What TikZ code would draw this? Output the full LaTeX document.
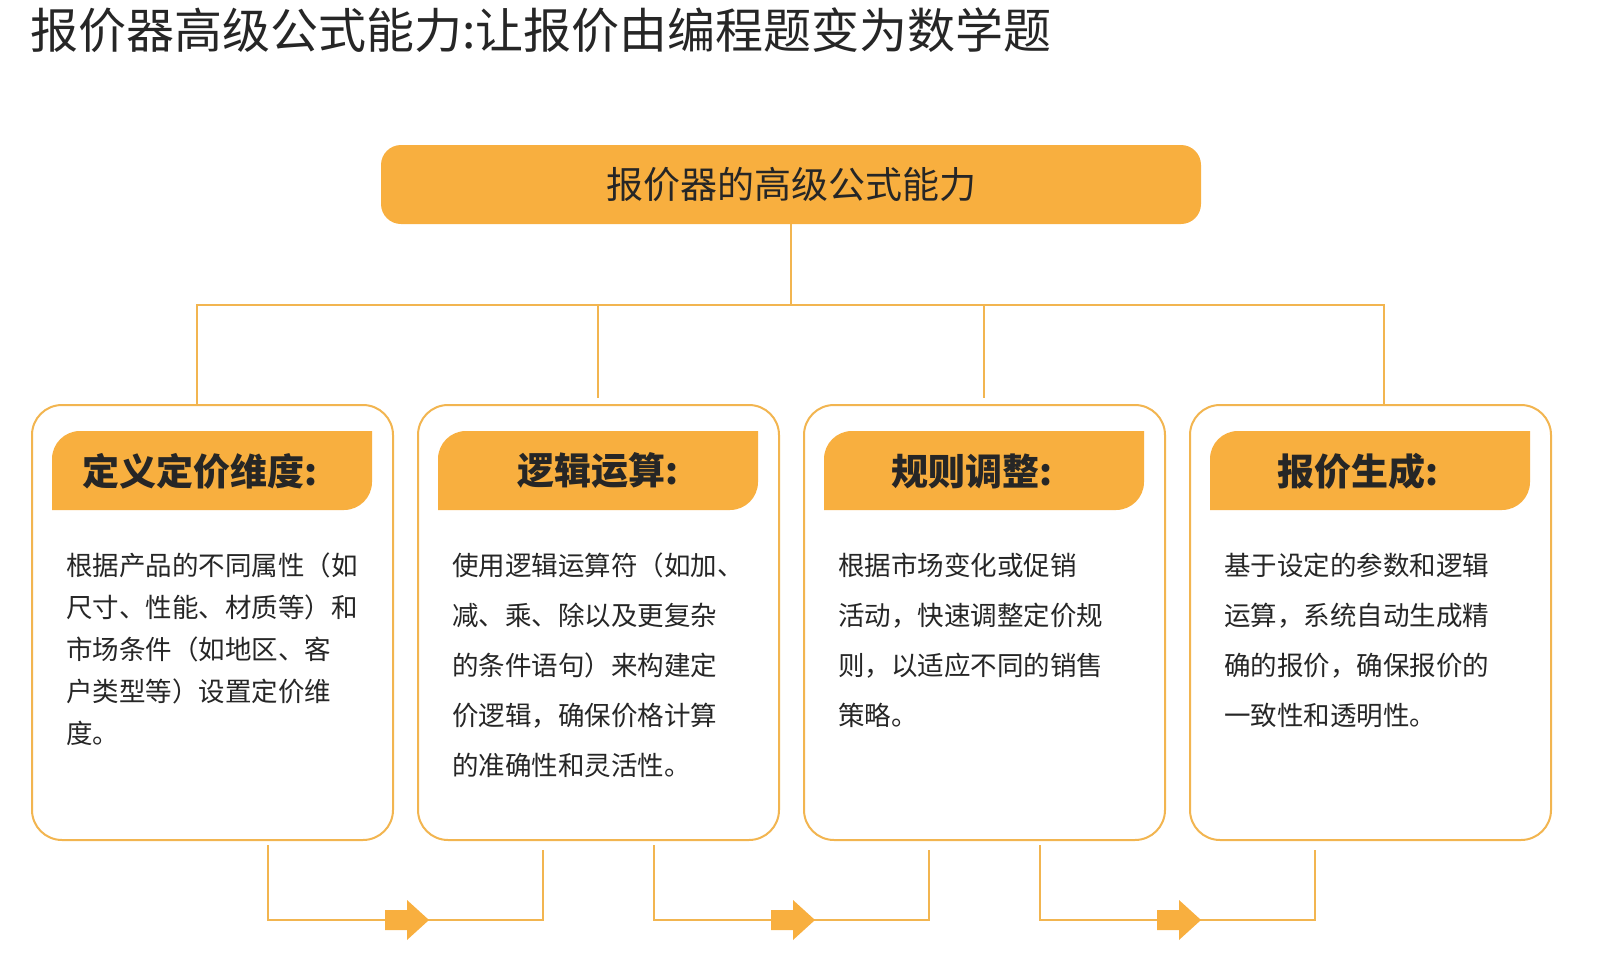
\documentclass[tikz,border=0pt]{standalone}
\usepackage{fontspec}
\setmainfont{Noto Sans CJK SC}
\definecolor{org}{HTML}{F8AF3F}
\definecolor{lin}{HTML}{F2B550}
\definecolor{txt}{HTML}{262626}
\begin{document}
\begin{tikzpicture}[x=1pt,y=-1pt,
  card/.style={draw=lin,line width=2pt,rounded corners=30pt,fill=white},
  conn/.style={draw=lin,line width=2.5pt},
  tabtxt/.style={font=\fontsize{37}{40}\selectfont\bfseries,text=txt,inner sep=0},
  body/.style={font=\fontsize{26.5}{42}\selectfont,text=txt,align=left,anchor=north west,inner sep=0}]
\useasboundingbox (0,0) rectangle (1599,972);
\node[anchor=west,inner sep=0,text=txt,font=\fontsize{48}{52}\selectfont] (title) at (30,30) {报价器高级公式能力:让报价由编程题变为数学题};
% top node
\fill[org,rounded corners=20pt] (381,145) rectangle (1201,224);
\node[font=\fontsize{37}{40}\selectfont,text=txt,inner sep=0] (top) at (791,185) {报价器的高级公式能力};
\coordinate (hub) at (791,305);
\draw[conn] (791,224) -- (hub);
\draw[conn] (197,405) -- (197,305) -- (1384,305) -- (1384,405);
\draw[conn] (598,305) -- (598,398);
\draw[conn] (984,305) -- (984,398);
% cards
\foreach \i/\x in {1/32,2/418,3/804,4/1190}{
  \path[card] (\x,405) rectangle ++(361,435);
  \fill[org] (\x+20,510) [rounded corners=28pt]-- (\x+20,431) [sharp corners]-- (\x+340,431) [rounded corners=28pt]-- (\x+340,510) [sharp corners]-- cycle;
  \coordinate (b\i) at (\x,405);
}
\node[tabtxt] (t1) at (200,471) {定义定价维度:};
\node[tabtxt] (t2) at (598,471) {逻辑运算:};
\node[tabtxt] (t3) at (972,471) {规则调整:};
\node[tabtxt] (t4) at (1358,471) {报价生成:};
\node[body] (x1) at (66,553) {根据产品的不同属性（如\\尺寸、性能、材质等）和\\市场条件（如地区、客\\户类型等）设置定价维\\度。};
\node[body,font=\fontsize{26.5}{50}\selectfont] (x2) at (452,553) {使用逻辑运算符（如加、\\减、乘、除以及更复杂\\的条件语句）来构建定\\价逻辑，确保价格计算\\的准确性和灵活性。};
\node[body,font=\fontsize{26.5}{50}\selectfont] (x3) at (838,553) {根据市场变化或促销\\活动，快速调整定价规\\则，以适应不同的销售\\策略。};
\node[body,font=\fontsize{26.5}{50}\selectfont] (x4) at (1224,553) {基于设定的参数和逻辑\\运算，系统自动生成精\\确的报价，确保报价的\\一致性和透明性。};
% bottom flow arrows
\foreach \a/\b/\m in {268/543/407,654/929/793,1040/1315/1179}{
  \draw[conn] (\a,845) -- (\a,920) -- (\b,920) -- (\b,850);
  \fill[org] (\m-22,910) -- (\m,910) -- (\m,900) -- (\m+22,920) -- (\m,940) -- (\m,930) -- (\m-22,930) -- cycle;
}
\end{tikzpicture}
\end{document}
